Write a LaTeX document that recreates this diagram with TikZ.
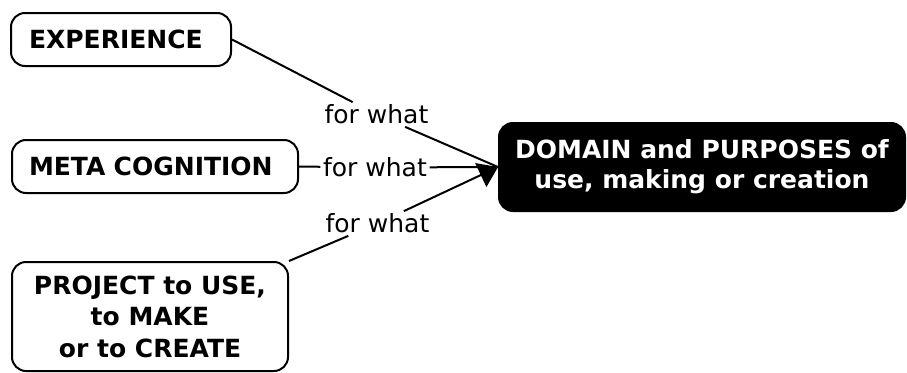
\documentclass[tikz,border=0pt]{standalone}
\usepackage{fontspec}
\setmainfont{DejaVu Sans}
\usetikzlibrary{arrows.meta}

\tikzset{
  concept/.style={draw=black, line width=2pt, rounded corners=14pt,
    font=\fontsize{25}{31.5}\selectfont\bfseries, inner ysep=0pt},
  focus/.style={concept, fill=black, text=white, align=center,
    font=\fontsize{25}{30}\selectfont\bfseries},
  linking/.style={font=\fontsize{25}{30}\selectfont, inner sep=2.5pt},
  link/.style={line width=2pt},
}

\begin{document}
\begin{tikzpicture}[x=1pt, y=-1pt]
  \useasboundingbox (0,0) rectangle (907,372);

  % concepts
  \node[concept, anchor=west, minimum height=53pt, inner xsep=18pt,
        text width=184pt, align=left] (exp) at (10,39.5) {EXPERIENCE};
  \node[concept, anchor=west, minimum height=53pt, inner xsep=17pt,
        text width=252pt, align=left] (meta) at (11,166.5) {META COGNITION};
  \node[concept, minimum width=276pt, minimum height=109pt, align=center]
        (proj) at (150,316.5) {PROJECT to USE,\\to MAKE\\or to CREATE};
  \node[focus, minimum width=406pt, minimum height=88pt]
        (dom) at (702,167) {DOMAIN and PURPOSES of\\use, making or creation};

  % linking phrases
  \node[linking] (l1) at (376.5,114.5) {for what};
  \node[linking] (l2) at (375,167.5) {for what};
  \node[linking] (l3) at (377.5,223.5) {for what};

  % links
  \draw[link] (exp.east) -- (l1);
  \draw[link] (l1) -- (dom.west);
  \draw[link] (meta.east) -- (l2);
  \draw[link] (l2) -- (dom.west);
  \draw[link] (proj.north east) -- (l3);
  \draw[link, -{Triangle[length=19pt, width=26pt]}] (l3) -- (dom.west);
\end{tikzpicture}
\end{document}
